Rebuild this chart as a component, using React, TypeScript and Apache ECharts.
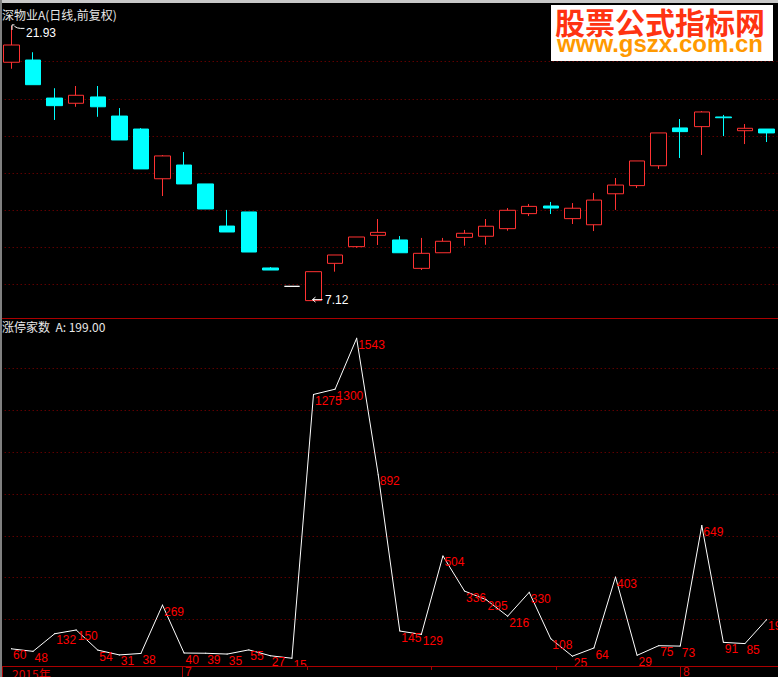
import React, { useEffect, useRef } from 'react';
import * as echarts from 'echarts';

// ---- data ----
const dates = [
  '2015-06-18', '2015-06-19', '2015-06-23', '2015-06-24', '2015-06-25', '2015-06-26',
  '2015-06-29', '2015-06-30', '2015-07-01', '2015-07-02', '2015-07-03', '2015-07-06',
  '2015-07-07', '2015-07-08', '2015-07-09', '2015-07-10', '2015-07-13', '2015-07-14',
  '2015-07-15', '2015-07-16', '2015-07-17', '2015-07-20', '2015-07-21', '2015-07-22',
  '2015-07-23', '2015-07-24', '2015-07-27', '2015-07-28', '2015-07-29', '2015-07-30',
  '2015-07-31', '2015-08-03', '2015-08-04', '2015-08-05', '2015-08-06', '2015-08-07',
];
const opens = [
  19.97, 20.09, 18.04, 17.76, 18.10, 17.07, 16.37, 13.69, 14.43, 13.41, 11.14, 11.90,
  8.88, 7.89, 7.12, 9.13, 10.03, 10.64, 10.39, 8.86, 9.70, 10.53, 10.59, 11.00,
  11.81, 12.22, 11.54, 11.21, 12.88, 13.32, 14.39, 16.43, 16.50, 17.02, 16.28, 16.37,
];
const closes = [
  20.90, 18.76, 17.63, 18.19, 17.57, 15.78, 14.22, 14.92, 13.41, 12.06, 10.82, 9.74,
  8.77, 7.89, 8.68, 9.58, 10.55, 10.80, 9.70, 9.67, 10.32, 10.75, 11.13, 11.99,
  12.20, 12.11, 12.10, 12.54, 13.35, 14.65, 16.16, 16.23, 17.29, 16.98, 16.41, 16.16,
];
const lows = [
  19.62, 18.76, 16.86, 17.57, 17.03, 15.78, 14.22, 12.76, 13.41, 12.06, 10.82, 9.74,
  8.77, 7.89, 7.12, 8.68, 9.97, 10.12, 9.70, 8.77, 9.70, 10.08, 10.13, 10.89,
  11.68, 11.79, 11.25, 10.87, 12.01, 13.19, 14.22, 14.81, 14.97, 15.99, 15.56, 15.67,
];
const highs = [
  21.93, 20.51, 18.57, 18.69, 18.69, 17.50, 16.42, 14.97, 15.13, 13.41, 12.01, 11.90,
  8.93, 7.89, 8.68, 9.58, 10.55, 11.52, 10.60, 10.50, 10.50, 10.93, 11.52, 12.11,
  12.33, 12.44, 12.38, 12.92, 13.73, 14.65, 16.16, 16.91, 17.34, 17.13, 16.64, 16.37,
];
const limitUps = [
  60, 48, 132, 150, 54, 31, 38, 269, 40, 39, 35, 55, 27, 15, 1275, 1300, 1543, 892,
  145, 129, 504, 336, 295, 216, 330, 108, 25, 64, 403, 29, 75, 73, 649, 91, 85, 199,
];
const priceTicks = { min: 6, max: 22, interval: 2 };
const countTicks = { min: 0, max: 1600, interval: 200 };
const titleText = '深物业A(日线,前复权)';
const indicatorText = '涨停家数  A: 199.00';
const axisYear = '2015年';
const monthLabels = ['7', '8'];

const RED = '#ff3232';
const CYAN = '#00ffff';
const GRID_RED = '#8b0000';
const AXIS_RED = '#aa0000';
const NUM_FONT = '"Liberation Sans", Arial, sans-serif';
const CJK_FONT = '"Noto Sans CJK SC", "Liberation Sans", sans-serif';

const splitLine = {
  show: true,
  showMinLine: false,
  showMaxLine: false,
  lineStyle: { color: GRID_RED, type: [1, 3], width: 1 },
};

export default function App() {
  const ref = useRef<HTMLDivElement>(null);
  useEffect(() => {
    const chart = echarts.init(ref.current!, null, { renderer: 'svg' });
    const hidden = { show: false };
    chart.setOption({
      animation: false,
      backgroundColor: '#000000',
      grid: [
        { left: 0.7, width: 776.6, top: 24.6, height: 296.8 },
        { left: 0.7, width: 776.6, top: 326.4, height: 335 },
      ],
      xAxis: [0, 1].map((g) => ({
        type: 'category',
        gridIndex: g,
        data: dates,
        boundaryGap: true,
        axisLine: hidden,
        axisTick: hidden,
        axisLabel: hidden,
        splitLine: hidden,
      })),
      yAxis: [
        {
          type: 'value', gridIndex: 0, ...priceTicks,
          axisLine: hidden, axisTick: hidden, axisLabel: hidden, splitLine,
        },
        {
          type: 'value', gridIndex: 1, ...countTicks,
          axisLine: hidden, axisTick: hidden, axisLabel: hidden, splitLine,
        },
      ],
      series: [
        {
          type: 'candlestick',
          xAxisIndex: 0,
          yAxisIndex: 0,
          barWidth: 16,
          silent: true,
          data: dates.map((_, i) => [opens[i], closes[i], lows[i], highs[i]]),
          itemStyle: {
            color: '#000000',
            color0: CYAN,
            borderColor: RED,
            borderColor0: CYAN,
            borderColorDoji: '#ffffff',
            borderWidth: 1,
          },
        },
        {
          type: 'line',
          xAxisIndex: 1,
          yAxisIndex: 1,
          data: limitUps,
          silent: true,
          symbol: 'rect',
          symbolSize: 1,
          showSymbol: true,
          lineStyle: { color: '#ffffff', width: 1 },
          itemStyle: { color: '#ffffff' },
          label: {
            show: true,
            position: [2, 1],
            color: '#ff0000',
            fontSize: 12,
            fontFamily: NUM_FONT,
          },
        },
      ],
    });

    const hiIdx = highs.indexOf(Math.max(...highs));
    const loIdx = lows.indexOf(Math.min(...lows));
    const hi = chart.convertToPixel({ gridIndex: 0 }, [dates[hiIdx], highs[hiIdx]]) as number[];
    const lo = chart.convertToPixel({ gridIndex: 0 }, [dates[loIdx], lows[loIdx]]) as number[];
    const x7 = chart.convertToPixel({ gridIndex: 1 }, [dates[8], 0]) as number[];
    const x8 = chart.convertToPixel({ gridIndex: 1 }, [dates[31], 0]) as number[];

    const white = '#ffffff';
    chart.setOption({
      graphic: [
        // frame
        { type: 'rect', z: 100, shape: { x: 0, y: 0, width: 778, height: 3 }, style: { fill: '#c8c8c8' } },
        { type: 'rect', z: 100, shape: { x: 0, y: 0, width: 2, height: 677 }, style: { fill: '#808080' } },
        { type: 'line', z: 100, shape: { x1: 2, y1: 318.5, x2: 778, y2: 318.5 }, style: { stroke: AXIS_RED, lineWidth: 1 } },
        // titles
        {
          type: 'text', z: 100,
          style: { text: titleText, x: 2, y: 14.2, fill: '#e8e8e8', fontSize: 12, fontFamily: CJK_FONT, align: 'left', verticalAlign: 'middle' },
        },
        {
          type: 'text', z: 100,
          style: { text: indicatorText, x: 2, y: 326.2, fill: '#e8e8e8', fontSize: 12, fontFamily: CJK_FONT, align: 'left', verticalAlign: 'middle' },
        },
        // high marker
        {
          type: 'polyline', z: 100,
          shape: { points: [[hi[0] + 0.5, hi[1] + 4], [hi[0] + 0.5, hi[1] - 1], [hi[0] + 3, hi[1] - 1]] },
          style: { stroke: white, lineWidth: 1, fill: null },
        },
        {
          type: 'polyline', z: 100,
          shape: { points: [[hi[0] + 3, hi[1] + 0.5], [hi[0] + 6, hi[1] + 2], [hi[0] + 9, hi[1] + 2.5], [hi[0] + 13, hi[1] + 2.5]] },
          style: { stroke: white, lineWidth: 1, fill: null },
        },
        {
          type: 'text', z: 100,
          style: { text: highs[hiIdx].toFixed(2), x: hi[0] + 14.5, y: hi[1] + 7, fill: white, fontSize: 12, fontFamily: NUM_FONT, align: 'left', verticalAlign: 'middle' },
        },
        // low marker
        {
          type: 'polyline', z: 100,
          shape: { points: [[lo[0] + 2, lo[1] - 3.5], [lo[0] - 1, lo[1] - 1], [lo[0] + 2, lo[1] + 1.5]] },
          style: { stroke: white, lineWidth: 1, fill: null },
        },
        {
          type: 'line', z: 100,
          shape: { x1: lo[0] - 1, y1: lo[1] - 1, x2: lo[0] + 9, y2: lo[1] - 1 },
          style: { stroke: white, lineWidth: 1 },
        },
        {
          type: 'text', z: 100,
          style: { text: lows[loIdx].toFixed(2), x: lo[0] + 11.5, y: lo[1] - 1, fill: white, fontSize: 12, fontFamily: NUM_FONT, align: 'left', verticalAlign: 'middle' },
        },
        // date axis row
        { type: 'rect', z: 100, shape: { x: 2, y: 666, width: 776, height: 11 }, style: { fill: '#000000' } },
        { type: 'line', z: 101, shape: { x1: 2, y1: 666.5, x2: 778, y2: 666.5 }, style: { stroke: AXIS_RED, lineWidth: 1 } },
        { type: 'line', z: 101, shape: { x1: 2.5, y1: 666, x2: 2.5, y2: 677 }, style: { stroke: AXIS_RED, lineWidth: 1 } },
        { type: 'line', z: 101, shape: { x1: Math.round(x7[0]) - 1.5, y1: 666, x2: Math.round(x7[0]) - 1.5, y2: 677 }, style: { stroke: AXIS_RED, lineWidth: 1 } },
        { type: 'line', z: 101, shape: { x1: Math.round(x8[0]) + 0.5, y1: 666, x2: Math.round(x8[0]) + 0.5, y2: 677 }, style: { stroke: AXIS_RED, lineWidth: 1 } },
        ...[307.5, 431.5, 556.5].map((x) => ({
          type: 'line', z: 101, shape: { x1: x, y1: 666, x2: x, y2: 670 }, style: { stroke: AXIS_RED, lineWidth: 1 },
        })),
        {
          type: 'text', z: 101,
          style: { text: axisYear, x: 12, y: 673, fill: '#e00000', fontSize: 12, fontFamily: CJK_FONT, align: 'left', verticalAlign: 'middle' },
        },
        {
          type: 'text', z: 101,
          style: { text: monthLabels[0], x: Math.round(x7[0]) + 1, y: 672.4, fill: '#e00000', fontSize: 12, fontFamily: NUM_FONT, align: 'left', verticalAlign: 'middle' },
        },
        {
          type: 'text', z: 101,
          style: { text: monthLabels[1], x: Math.round(x8[0]) + 3, y: 672.4, fill: '#e00000', fontSize: 12, fontFamily: NUM_FONT, align: 'left', verticalAlign: 'middle' },
        },
        // watermark
        { type: 'rect', z: 110, shape: { x: 551, y: 5, width: 222, height: 56 }, style: { fill: '#ffffff' } },
        {
          type: 'text', z: 111,
          style: { text: '股票公式指标网', x: 660, y: 20.8, fill: '#ff3311', fontSize: 30, lineHeight: 26, fontWeight: 'bold', fontFamily: CJK_FONT, align: 'center', verticalAlign: 'middle' },
        },
        {
          type: 'text', z: 111,
          style: { text: 'www.gszx.com.cn', x: 660, y: 43.6, fill: '#ff9900', fontSize: 24, lineHeight: 18, fontWeight: 'bold', fontFamily: NUM_FONT, align: 'center', verticalAlign: 'middle' },
        },
      ],
    });
    return () => chart.dispose();
  }, []);
  return (
    <div
      ref={ref}
      style={{ position: 'fixed', left: 0, top: 0, width: 778, height: 677, background: '#000' }}
    />
  );
}
